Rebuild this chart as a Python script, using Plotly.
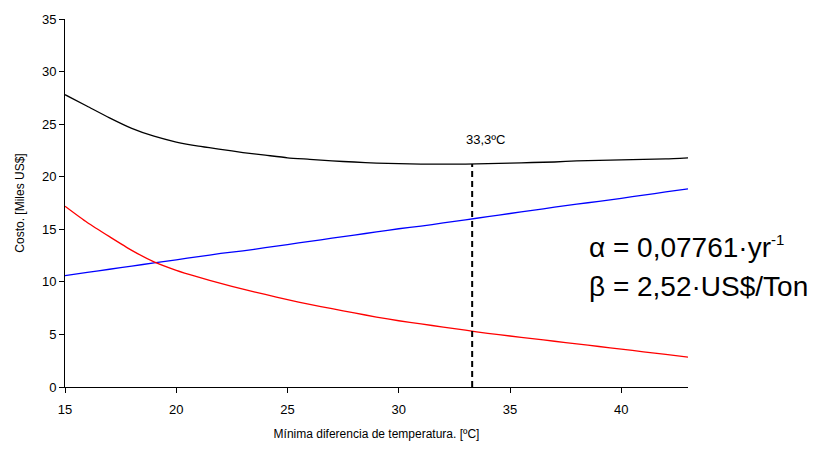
import plotly.graph_objects as go

temp = list(range(15, 44))
costo_total = [27.8, 26.7, 25.6, 24.6, 23.85, 23.3, 22.9, 22.6, 22.3, 22.05, 21.8, 21.65, 21.5, 21.4, 21.3,
               21.25, 21.2, 21.2, 21.2, 21.25, 21.3, 21.35, 21.4, 21.5, 21.55, 21.6, 21.65, 21.7, 21.8]
costo_operacion = [17.2, 15.65, 14.3, 13.0, 11.9, 11.1, 10.45, 9.85, 9.3, 8.8, 8.3, 7.85, 7.45, 7.05, 6.65,
                   6.3, 6.0, 5.7, 5.4, 5.1, 4.85, 4.6, 4.35, 4.1, 3.85, 3.6, 3.35, 3.1, 2.85]
costo_capital = [10.6, 10.9, 11.2, 11.5, 11.8, 12.1, 12.4, 12.7, 12.95, 13.25, 13.55, 13.85, 14.15, 14.45, 14.75,
                 15.05, 15.3, 15.6, 15.9, 16.2, 16.5, 16.8, 17.1, 17.4, 17.65, 17.95, 18.25, 18.55, 18.85]
t_optimo = 33.3
costo_optimo = 21.2
etiqueta_optimo = "33,3ºC"
texto_alfa = "α = 0,07761·yr<sup><span style='font-size:15px'>-1</span></sup>"
texto_beta = "β = 2,52·US$/Ton"

FONT = "Liberation Sans, Arial, sans-serif"

fig = go.Figure()
line_style = dict(width=1.3, shape="spline", smoothing=0.6)
fig.add_trace(go.Scatter(x=temp, y=costo_total, mode="lines",
                         line=dict(color="black", **line_style), showlegend=False))
fig.add_trace(go.Scatter(x=temp, y=costo_capital, mode="lines",
                         line=dict(color="#0000ff", **line_style), showlegend=False))
fig.add_trace(go.Scatter(x=temp, y=costo_operacion, mode="lines",
                         line=dict(color="#ff0000", **line_style), showlegend=False))
fig.add_trace(go.Scatter(x=[t_optimo, t_optimo], y=[0, costo_optimo], mode="lines",
                         line=dict(color="black", width=2, dash="6px,4px"), showlegend=False))

fig.add_annotation(x=t_optimo + 0.6, y=costo_optimo + 2.3, text=etiqueta_optimo, showarrow=False,
                   font=dict(family=FONT, size=13, color="black"))
fig.add_annotation(x=0.838, y=0.381, xref="paper", yref="paper", text=texto_alfa, showarrow=False,
                   xanchor="left", yanchor="middle", font=dict(family=FONT, size=28, color="black"))
fig.add_annotation(x=0.838, y=0.272, xref="paper", yref="paper", text=texto_beta, showarrow=False,
                   xanchor="left", yanchor="middle", font=dict(family=FONT, size=28, color="black"))

fig.update_layout(
    width=825, height=451,
    margin=dict(l=65, r=137, t=14, b=64),
    plot_bgcolor="white", paper_bgcolor="white",
    font=dict(family=FONT, size=13, color="black"),
    xaxis=dict(range=[15, 43], tickvals=[15, 20, 25, 30, 35, 40], showgrid=False, zeroline=False,
               showline=True, linecolor="black", linewidth=1, ticks="outside", ticklen=5,
               tickcolor="black", tickfont=dict(size=13), ticklabelstandoff=5,
               title=dict(text="Mínima diferencia de temperatura. [ºC]", font=dict(size=12), standoff=14)),
    yaxis=dict(range=[0, 35], tickvals=[0, 5, 10, 15, 20, 25, 30, 35], showgrid=False, zeroline=False,
               showline=True, linecolor="black", linewidth=1, ticks="outside", ticklen=5,
               tickcolor="black", tickfont=dict(size=13),
               title=dict(text="Costo. [Miles US$]", font=dict(size=12), standoff=14)),
)

fig.write_html("out.html")
